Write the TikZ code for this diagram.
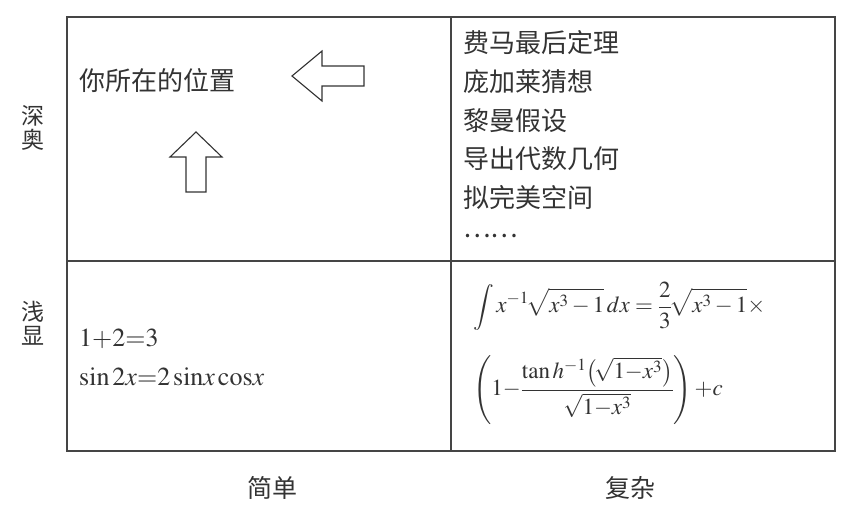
\documentclass[tikz,border=0pt]{standalone}
\usepackage{amsmath}
\usepackage{mathptmx}
\usepackage{fontspec}
\setmainfont{Liberation Serif}
\newfontfamily\cjk{Noto Sans CJK SC}
\usetikzlibrary{positioning}
\definecolor{Ink}{HTML}{333333}
\definecolor{Frame}{HTML}{454545}

\begin{document}
\begin{tikzpicture}[x=1pt,y=-1pt,
  frame/.style={draw=Frame,line width=1.4pt},
  hanzi/.style={font=\cjk\fontsize{26}{26}\selectfont,text=Ink,inner sep=0pt},
  sidelabel/.style={font=\cjk\fontsize{23}{24}\selectfont,text=Ink,inner sep=0pt,align=center},
  formula/.style={font=\fontsize{23}{28}\selectfont,text=Ink,inner sep=0pt},
  bigarrow/.style={draw=Ink,line width=1.1pt,fill=white,line join=miter}
]
\useasboundingbox (0,0) rectangle (868,524);
\fill[white] (0,0) rectangle (868,524);

% the four cells
\coordinate (nw) at (67,17);
\coordinate (se) at (835,451);
\coordinate (top) at (451,17);
\coordinate (bottom) at (451,451);
\coordinate (left) at (67,261);
\coordinate (right) at (835,261);
\draw[frame] (nw) rectangle (se);
\draw[frame] (top)--(bottom);
\draw[frame] (left)--(right);

% axis words
\node[sidelabel] (deep) at (33,128) {深\\奥};
\node[sidelabel] (shallow) at (33,323) {浅\\显};
\node[hanzi,font=\cjk\fontsize{25}{25}\selectfont] (simple) at (272,488) {简单};
\node[hanzi,font=\cjk\fontsize{25}{25}\selectfont] (complex) at (630,488) {复杂};

% deep and simple
\node[hanzi,anchor=west] (here) at (79,81) {你所在的位置};
\draw[bigarrow] (292,76) -- (322,51) -- (322,66) -- (364,66)
  -- (364,86) -- (322,86) -- (322,101) -- cycle;
\draw[bigarrow] (196,132) -- (222,157) -- (206,157) -- (206,192)
  -- (186,192) -- (186,157) -- (170,157) -- cycle;

% deep and complex
\foreach \txt [count=\i from 0] in {费马最后定理,庞加莱猜想,黎曼假设,导出代数几何,拟完美空间,……}
  \node[hanzi,anchor=west] (hard\i) at (463,43+38.7*\i) {\txt};

% shallow and simple
\node[formula,font=\fontsize{26}{30}\selectfont,anchor=base west] (sum) at (79,346) {$1{+}2{=}3$};
\node[formula,font=\fontsize{26}{30}\selectfont,anchor=base west] (trig) at (79,385)
  {$\sin 2x{=}2\sin\!x\cos\!x$};

% shallow and complex
\node[formula,anchor=west] (int) at (473,306)
  {$\displaystyle\int x^{-1}\!\sqrt{x^3-1}\,dx=\frac{2}{3}\!\sqrt{x^3-1}\times$};
\node[formula,anchor=west] (intrest) at (473,390)
  {$\displaystyle\left(1{-}\frac{\tan h^{-1}\bigl(\!\sqrt{1{-}x^3}\bigr)}{\sqrt{1{-}x^3}}\right){+}c$};
\end{tikzpicture}
\end{document}
